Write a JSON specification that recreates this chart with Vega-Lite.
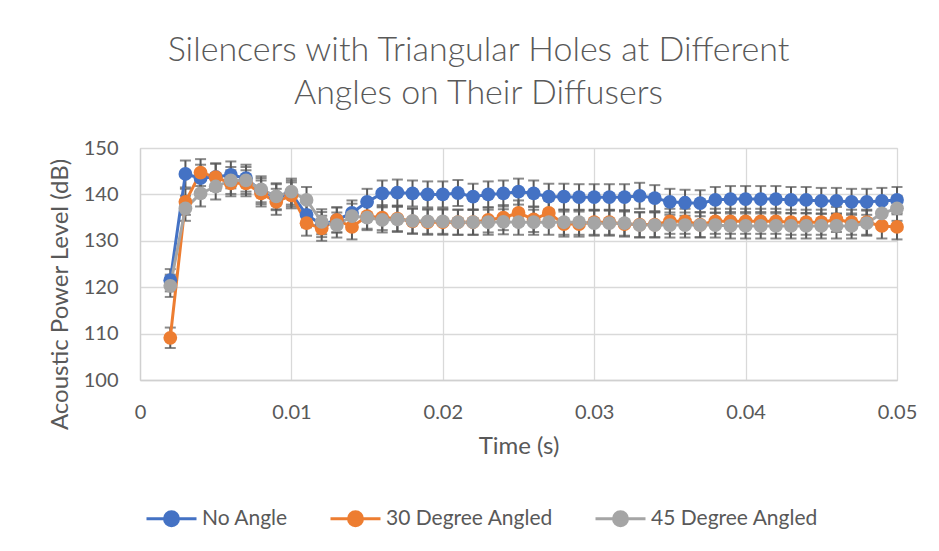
{
  "$schema": "https://vega.github.io/schema/vega-lite/v6.json",
  "width": 757,
  "height": 232,
  "autosize": {"type": "none"},
  "padding": {"left": 140, "top": 148, "right": 42, "bottom": 171},
  "background": "white",
  "title": {
    "text": ["Silencers with Triangular Holes at Different", "Angles on Their Diffusers"],
    "anchor": "middle",
    "dx": -40,
    "offset": 27,
    "font": "Lato",
    "fontWeight": 300,
    "fontSize": 34,
    "lineHeight": 43,
    "color": "#595959"
  },
  "config": {
    "view": {"stroke": "#d9d9d9", "strokeWidth": 1},
    "axis": {
      "labelFont": "Lato",
      "labelFontSize": 20,
      "labelColor": "#595959",
      "titleFont": "Lato",
      "titleFontSize": 24,
      "titleFontWeight": "normal",
      "titleColor": "#595959",
      "gridColor": "#d9d9d9",
      "gridWidth": 1.3,
      "domainColor": "#d0d0d0",
      "domainWidth": 1.3,
      "ticks": false,
      "tickSize": 0,
      "labelFlush": false
    }
  },
  "data": {
    "values": [
      {"t":0.002,"s":"No Angle","y":121.5,"e":2.4},
      {"t":0.003,"s":"No Angle","y":144.4,"e":2.9},
      {"t":0.004,"s":"No Angle","y":143.5,"e":2.9},
      {"t":0.005,"s":"No Angle","y":143.8,"e":2.9},
      {"t":0.006,"s":"No Angle","y":144.2,"e":2.9},
      {"t":0.007,"s":"No Angle","y":143.5,"e":2.9},
      {"t":0.008,"s":"No Angle","y":140.7,"e":2.8},
      {"t":0.009,"s":"No Angle","y":139.4,"e":2.8},
      {"t":0.010,"s":"No Angle","y":140.2,"e":2.8},
      {"t":0.011,"s":"No Angle","y":135.6,"e":2.7},
      {"t":0.012,"s":"No Angle","y":133.5,"e":2.7},
      {"t":0.013,"s":"No Angle","y":134.5,"e":2.7},
      {"t":0.014,"s":"No Angle","y":136,"e":2.7},
      {"t":0.015,"s":"No Angle","y":138.4,"e":2.8},
      {"t":0.016,"s":"No Angle","y":140.2,"e":2.8},
      {"t":0.017,"s":"No Angle","y":140.4,"e":2.8},
      {"t":0.018,"s":"No Angle","y":140.2,"e":2.8},
      {"t":0.019,"s":"No Angle","y":140,"e":2.8},
      {"t":0.020,"s":"No Angle","y":140,"e":2.8},
      {"t":0.021,"s":"No Angle","y":140.3,"e":2.8},
      {"t":0.022,"s":"No Angle","y":139.5,"e":2.8},
      {"t":0.023,"s":"No Angle","y":140,"e":2.8},
      {"t":0.024,"s":"No Angle","y":140.2,"e":2.8},
      {"t":0.025,"s":"No Angle","y":140.6,"e":2.8},
      {"t":0.026,"s":"No Angle","y":140.2,"e":2.8},
      {"t":0.027,"s":"No Angle","y":139.5,"e":2.8},
      {"t":0.028,"s":"No Angle","y":139.5,"e":2.8},
      {"t":0.029,"s":"No Angle","y":139.4,"e":2.8},
      {"t":0.030,"s":"No Angle","y":139.4,"e":2.8},
      {"t":0.031,"s":"No Angle","y":139.4,"e":2.8},
      {"t":0.032,"s":"No Angle","y":139.4,"e":2.8},
      {"t":0.033,"s":"No Angle","y":139.7,"e":2.8},
      {"t":0.034,"s":"No Angle","y":139.2,"e":2.8},
      {"t":0.035,"s":"No Angle","y":138.4,"e":2.8},
      {"t":0.036,"s":"No Angle","y":138.2,"e":2.8},
      {"t":0.037,"s":"No Angle","y":138.1,"e":2.8},
      {"t":0.038,"s":"No Angle","y":138.8,"e":2.8},
      {"t":0.039,"s":"No Angle","y":139,"e":2.8},
      {"t":0.040,"s":"No Angle","y":139,"e":2.8},
      {"t":0.041,"s":"No Angle","y":139,"e":2.8},
      {"t":0.042,"s":"No Angle","y":139,"e":2.8},
      {"t":0.043,"s":"No Angle","y":138.8,"e":2.8},
      {"t":0.044,"s":"No Angle","y":138.8,"e":2.8},
      {"t":0.045,"s":"No Angle","y":138.6,"e":2.8},
      {"t":0.046,"s":"No Angle","y":138.6,"e":2.8},
      {"t":0.047,"s":"No Angle","y":138.4,"e":2.8},
      {"t":0.048,"s":"No Angle","y":138.4,"e":2.8},
      {"t":0.049,"s":"No Angle","y":138.6,"e":2.8},
      {"t":0.050,"s":"No Angle","y":138.8,"e":2.8},
      {"t":0.002,"s":"30 Degree Angled","y":109.1,"e":2.2},
      {"t":0.003,"s":"30 Degree Angled","y":138.4,"e":2.8},
      {"t":0.004,"s":"30 Degree Angled","y":144.7,"e":2.9},
      {"t":0.005,"s":"30 Degree Angled","y":143.7,"e":2.9},
      {"t":0.006,"s":"30 Degree Angled","y":142.4,"e":2.8},
      {"t":0.007,"s":"30 Degree Angled","y":142.4,"e":2.8},
      {"t":0.008,"s":"30 Degree Angled","y":140.2,"e":2.8},
      {"t":0.009,"s":"30 Degree Angled","y":138.4,"e":2.8},
      {"t":0.010,"s":"30 Degree Angled","y":139.8,"e":2.8},
      {"t":0.011,"s":"30 Degree Angled","y":133.8,"e":2.7},
      {"t":0.012,"s":"30 Degree Angled","y":132.7,"e":2.7},
      {"t":0.013,"s":"30 Degree Angled","y":134.5,"e":2.7},
      {"t":0.014,"s":"30 Degree Angled","y":133,"e":2.7},
      {"t":0.015,"s":"30 Degree Angled","y":135.3,"e":2.7},
      {"t":0.016,"s":"30 Degree Angled","y":135,"e":2.7},
      {"t":0.017,"s":"30 Degree Angled","y":134.8,"e":2.7},
      {"t":0.018,"s":"30 Degree Angled","y":134.2,"e":2.7},
      {"t":0.019,"s":"30 Degree Angled","y":134,"e":2.7},
      {"t":0.020,"s":"30 Degree Angled","y":134,"e":2.7},
      {"t":0.021,"s":"30 Degree Angled","y":134,"e":2.7},
      {"t":0.022,"s":"30 Degree Angled","y":134,"e":2.7},
      {"t":0.023,"s":"30 Degree Angled","y":134.5,"e":2.7},
      {"t":0.024,"s":"30 Degree Angled","y":135,"e":2.7},
      {"t":0.025,"s":"30 Degree Angled","y":136,"e":2.7},
      {"t":0.026,"s":"30 Degree Angled","y":134.6,"e":2.7},
      {"t":0.027,"s":"30 Degree Angled","y":136,"e":2.7},
      {"t":0.028,"s":"30 Degree Angled","y":133.6,"e":2.7},
      {"t":0.029,"s":"30 Degree Angled","y":133.6,"e":2.7},
      {"t":0.030,"s":"30 Degree Angled","y":134,"e":2.7},
      {"t":0.031,"s":"30 Degree Angled","y":134,"e":2.7},
      {"t":0.032,"s":"30 Degree Angled","y":133.6,"e":2.7},
      {"t":0.033,"s":"30 Degree Angled","y":133.5,"e":2.7},
      {"t":0.034,"s":"30 Degree Angled","y":133.5,"e":2.7},
      {"t":0.035,"s":"30 Degree Angled","y":134.2,"e":2.7},
      {"t":0.036,"s":"30 Degree Angled","y":134.2,"e":2.7},
      {"t":0.037,"s":"30 Degree Angled","y":133.5,"e":2.7},
      {"t":0.038,"s":"30 Degree Angled","y":134.2,"e":2.7},
      {"t":0.039,"s":"30 Degree Angled","y":134.2,"e":2.7},
      {"t":0.040,"s":"30 Degree Angled","y":134.2,"e":2.7},
      {"t":0.041,"s":"30 Degree Angled","y":134.2,"e":2.7},
      {"t":0.042,"s":"30 Degree Angled","y":134.2,"e":2.7},
      {"t":0.043,"s":"30 Degree Angled","y":134,"e":2.7},
      {"t":0.044,"s":"30 Degree Angled","y":134,"e":2.7},
      {"t":0.045,"s":"30 Degree Angled","y":134,"e":2.7},
      {"t":0.046,"s":"30 Degree Angled","y":134.6,"e":2.7},
      {"t":0.047,"s":"30 Degree Angled","y":134,"e":2.7},
      {"t":0.048,"s":"30 Degree Angled","y":134,"e":2.7},
      {"t":0.049,"s":"30 Degree Angled","y":133.2,"e":2.7},
      {"t":0.050,"s":"30 Degree Angled","y":133,"e":2.7},
      {"t":0.002,"s":"45 Degree Angled","y":120.3,"e":2.4},
      {"t":0.003,"s":"45 Degree Angled","y":137,"e":2.7},
      {"t":0.004,"s":"45 Degree Angled","y":140.2,"e":2.8},
      {"t":0.005,"s":"45 Degree Angled","y":141.7,"e":2.8},
      {"t":0.006,"s":"45 Degree Angled","y":143,"e":2.9},
      {"t":0.007,"s":"45 Degree Angled","y":143,"e":2.9},
      {"t":0.008,"s":"45 Degree Angled","y":141.1,"e":2.8},
      {"t":0.009,"s":"45 Degree Angled","y":139.6,"e":2.8},
      {"t":0.010,"s":"45 Degree Angled","y":140.6,"e":2.8},
      {"t":0.011,"s":"45 Degree Angled","y":138.8,"e":2.8},
      {"t":0.012,"s":"45 Degree Angled","y":134.1,"e":2.7},
      {"t":0.013,"s":"45 Degree Angled","y":133.4,"e":2.7},
      {"t":0.014,"s":"45 Degree Angled","y":135.3,"e":2.7},
      {"t":0.015,"s":"45 Degree Angled","y":135,"e":2.7},
      {"t":0.016,"s":"45 Degree Angled","y":134.5,"e":2.7},
      {"t":0.017,"s":"45 Degree Angled","y":134.6,"e":2.7},
      {"t":0.018,"s":"45 Degree Angled","y":134.3,"e":2.7},
      {"t":0.019,"s":"45 Degree Angled","y":134.2,"e":2.7},
      {"t":0.020,"s":"45 Degree Angled","y":134.2,"e":2.7},
      {"t":0.021,"s":"45 Degree Angled","y":134,"e":2.7},
      {"t":0.022,"s":"45 Degree Angled","y":134,"e":2.7},
      {"t":0.023,"s":"45 Degree Angled","y":134,"e":2.7},
      {"t":0.024,"s":"45 Degree Angled","y":134.1,"e":2.7},
      {"t":0.025,"s":"45 Degree Angled","y":134,"e":2.7},
      {"t":0.026,"s":"45 Degree Angled","y":134,"e":2.7},
      {"t":0.027,"s":"45 Degree Angled","y":134,"e":2.7},
      {"t":0.028,"s":"45 Degree Angled","y":134,"e":2.7},
      {"t":0.029,"s":"45 Degree Angled","y":134,"e":2.7},
      {"t":0.030,"s":"45 Degree Angled","y":133.8,"e":2.7},
      {"t":0.031,"s":"45 Degree Angled","y":133.8,"e":2.7},
      {"t":0.032,"s":"45 Degree Angled","y":133.8,"e":2.7},
      {"t":0.033,"s":"45 Degree Angled","y":133.4,"e":2.7},
      {"t":0.034,"s":"45 Degree Angled","y":133.4,"e":2.7},
      {"t":0.035,"s":"45 Degree Angled","y":133.4,"e":2.7},
      {"t":0.036,"s":"45 Degree Angled","y":133.4,"e":2.7},
      {"t":0.037,"s":"45 Degree Angled","y":133.4,"e":2.7},
      {"t":0.038,"s":"45 Degree Angled","y":133.4,"e":2.7},
      {"t":0.039,"s":"45 Degree Angled","y":133.2,"e":2.7},
      {"t":0.040,"s":"45 Degree Angled","y":133.2,"e":2.7},
      {"t":0.041,"s":"45 Degree Angled","y":133.2,"e":2.7},
      {"t":0.042,"s":"45 Degree Angled","y":133.2,"e":2.7},
      {"t":0.043,"s":"45 Degree Angled","y":133.2,"e":2.7},
      {"t":0.044,"s":"45 Degree Angled","y":133.2,"e":2.7},
      {"t":0.045,"s":"45 Degree Angled","y":133.2,"e":2.7},
      {"t":0.046,"s":"45 Degree Angled","y":133.2,"e":2.7},
      {"t":0.047,"s":"45 Degree Angled","y":133.2,"e":2.7},
      {"t":0.048,"s":"45 Degree Angled","y":133.8,"e":2.7},
      {"t":0.049,"s":"45 Degree Angled","y":135.9,"e":2.7},
      {"t":0.050,"s":"45 Degree Angled","y":137,"e":2.7}
    ]
  },
  "encoding": {
    "x": {
      "field": "t",
      "type": "quantitative",
      "scale": {"domain": [0, 0.05], "nice": false, "zero": false},
      "axis": {
        "title": "Time (s)",
        "values": [0, 0.01, 0.02, 0.03, 0.04, 0.05],
        "format": ".2~f",
        "labelFlush": false,
        "labelPadding": 22,
        "titlePadding": 12
      }
    }
  },
  "layer": [
    {
      "mark": {"type": "errorbar", "ticks": {"size": 11, "thickness": 2, "color": "#595959"}, "rule": {"strokeWidth": 2, "color": "#595959"}},
      "encoding": {
        "y": {
          "field": "y",
          "type": "quantitative",
          "title": "Acoustic Power Level (dB)",
          "scale": {"domain": [100, 150], "nice": false, "zero": false},
          "axis": {
            "title": "Acoustic Power Level (dB)",
            "values": [100, 110, 120, 130, 140, 150],
            "labelFlush": false,
            "labelPadding": 22,
            "titlePadding": 11,
            "titleY": 146
          }
        },
        "yError": {"field": "e"},
        "detail": {"field": "s"}
      }
    },
    {
      "mark": {"type": "line", "strokeWidth": 3},
      "encoding": {
        "y": {"field": "y", "type": "quantitative", "title": "Acoustic Power Level (dB)"},
        "color": {
          "field": "s",
          "type": "nominal",
          "scale": {"domain": ["No Angle", "30 Degree Angled", "45 Degree Angled"], "range": ["#4472C4", "#ED7D31", "#A5A5A5"]},
          "legend": {
            "title": null,
            "orient": "none",
            "direction": "horizontal",
            "legendX": 5,
            "legendY": 344,
            "symbolType": "M-1,0L1,0M-0.28,0A0.28,0.28,0,1,1,0.28,0A0.28,0.28,0,1,1,-0.28,0Z",
            "symbolSize": 2500,
            "symbolStrokeWidth": 3,
            "labelFont": "Lato",
            "labelFontSize": 21,
            "labelColor": "#595959",
            "labelOffset": 4,
            "columnPadding": 36,
            "labelLimit": 400,
            "encode": {
              "symbols": {
                "update": {
                  "fill": {"scale": "color", "field": "value"},
                  "stroke": {"scale": "color", "field": "value"},
                  "opacity": {"value": 1}
                }
              }
            }
          }
        }
      }
    },
    {
      "mark": {"type": "point", "filled": true, "opacity": 1, "size": 190},
      "encoding": {
        "y": {"field": "y", "type": "quantitative", "title": "Acoustic Power Level (dB)"},
        "color": {"field": "s", "type": "nominal"}
      }
    }
  ]
}
